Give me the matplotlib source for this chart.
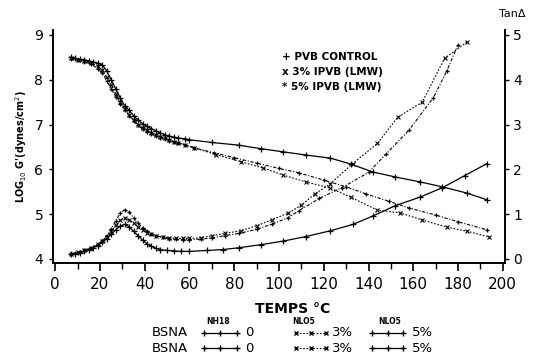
import matplotlib
matplotlib.use("Agg")
import matplotlib.pyplot as plt
from matplotlib.lines import Line2D

plt.rcParams['font.family'] = ['Liberation Sans Narrow', 'DejaVu Sans']

# ---- data: storage modulus log10 G' (left axis) ----
ctrl_g_T = [7, 9, 11, 13, 15, 17, 19, 21, 23, 25, 27, 29, 31, 33, 35, 37, 39, 41, 43, 45,
            47, 49, 51, 53, 55, 58, 60, 70, 82, 92, 102, 112, 123, 132, 142, 152, 163, 173, 184, 193]
ctrl_g = [8.50, 8.48, 8.46, 8.44, 8.42, 8.40, 8.37, 8.33, 8.20, 8.00, 7.80, 7.60, 7.42, 7.32,
          7.20, 7.10, 7.02, 6.96, 6.91, 6.86, 6.81, 6.77, 6.74, 6.72, 6.70, 6.68, 6.66, 6.60,
          6.54, 6.46, 6.39, 6.32, 6.25, 6.12, 5.94, 5.83, 5.72, 5.61, 5.47, 5.32]

p3_g_T = [7, 10, 13, 16, 19, 21, 23, 25, 27, 29, 31, 33, 35, 37, 39, 41, 43, 45, 47, 49, 51,
          53, 55, 58, 62, 72, 83, 93, 102, 112, 123, 132, 144, 154, 164, 175, 184, 194]
p3_g = [8.48, 8.45, 8.42, 8.38, 8.30, 8.22, 8.05, 7.88, 7.68, 7.50, 7.35, 7.22, 7.10, 7.00,
        6.93, 6.87, 6.82, 6.77, 6.73, 6.69, 6.65, 6.62, 6.59, 6.55, 6.48, 6.33, 6.17, 6.03,
        5.87, 5.72, 5.58, 5.38, 5.09, 5.03, 4.87, 4.71, 4.62, 4.49]

p5_g_T = [7, 10, 13, 16, 19, 21, 23, 25, 27, 29, 31, 33, 35, 37, 39, 41, 43, 45, 47, 49, 51,
          53, 55, 58, 62, 71, 80, 90, 100, 109, 120, 130, 139, 149, 158, 170, 180, 193]
p5_g = [8.46, 8.43, 8.40, 8.35, 8.25, 8.15, 7.98, 7.80, 7.62, 7.45, 7.32, 7.20, 7.08, 6.98,
        6.90, 6.84, 6.79, 6.75, 6.71, 6.68, 6.64, 6.61, 6.58, 6.55, 6.48, 6.37, 6.26, 6.14,
        6.02, 5.92, 5.76, 5.61, 5.45, 5.29, 5.14, 4.98, 4.83, 4.65]

# ---- data: tan delta (right axis) ----
ctrl_t_T = [7, 9, 11, 13, 15, 17, 19, 21, 23, 25, 27, 29, 31, 33, 35, 37, 39, 41, 43, 45, 47,
            50, 53, 56, 60, 68, 75, 82, 92, 102, 112, 123, 133, 142, 152, 163, 173, 183, 193]
ctrl_t = [0.10, 0.12, 0.14, 0.17, 0.21, 0.25, 0.30, 0.37, 0.45, 0.55, 0.65, 0.73, 0.77, 0.72,
          0.62, 0.52, 0.42, 0.34, 0.28, 0.24, 0.21, 0.19, 0.18, 0.17, 0.17, 0.19, 0.21, 0.25,
          0.32, 0.40, 0.50, 0.63, 0.77, 0.96, 1.19, 1.38, 1.59, 1.86, 2.13]

p3_t_T = [7, 10, 13, 16, 19, 21, 23, 25, 27, 29, 31, 33, 35, 37, 39, 41, 43, 45, 48, 51, 54,
          57, 60, 65, 70, 76, 83, 90, 97, 104, 110, 116, 123, 133, 144, 153, 164, 174, 184]
p3_t = [0.12, 0.15, 0.19, 0.25, 0.33, 0.40, 0.50, 0.62, 0.75, 0.86, 0.92, 0.88, 0.80, 0.72,
        0.65, 0.59, 0.55, 0.52, 0.49, 0.47, 0.46, 0.46, 0.46, 0.47, 0.52, 0.57, 0.63, 0.74,
        0.88, 1.02, 1.20, 1.45, 1.68, 2.13, 2.58, 3.16, 3.50, 4.48, 4.84]

p5_t_T = [7, 10, 13, 16, 19, 21, 23, 25, 27, 29, 31, 33, 35, 37, 39, 41, 43, 45, 48, 51, 54,
          57, 60, 65, 70, 76, 82, 90, 97, 104, 109, 118, 128, 140, 148, 158, 169, 175, 180]
p5_t = [0.11, 0.14, 0.18, 0.24, 0.32, 0.40, 0.52, 0.67, 0.85, 1.02, 1.10, 1.05, 0.92, 0.80,
        0.70, 0.62, 0.56, 0.52, 0.48, 0.45, 0.44, 0.43, 0.43, 0.44, 0.47, 0.52, 0.57, 0.66,
        0.78, 0.92, 1.08, 1.35, 1.59, 1.93, 2.35, 2.87, 3.60, 4.20, 4.78]

x_ticks = [0, 20, 40, 60, 80, 100, 120, 140, 160, 180, 200]
left_ticks = [4, 5, 6, 7, 8, 9]
right_ticks = [0, 1, 2, 3, 4, 5]
legend_labels = ["+ PVB CONTROL", "x 3% IPVB (LMW)", "* 5% IPVB (LMW)"]

fig = plt.figure(figsize=(5.39, 3.56), dpi=100)
ax = fig.add_axes([53/539, 1-263/356, (505-53)/539, (263-30)/356])
ax2 = ax.twinx()

styles = {
    'ctrl': dict(color='black', ls='-', lw=0.9, marker='+', ms=5, mew=0.9),
    'p3': dict(color='black', ls=(0, (1.5, 1.5)), lw=0.8, marker='x', ms=3.5, mew=0.8),
    'p5': dict(color='black', ls=(0, (3, 1.5, 1, 1.5)), lw=0.8, marker='+', ms=3.5, mew=0.9),
}
ax.plot(ctrl_g_T, ctrl_g, **styles['ctrl'])
ax.plot(p3_g_T, p3_g, **styles['p3'])
ax.plot(p5_g_T, p5_g, **styles['p5'])
ax2.plot(ctrl_t_T, ctrl_t, **styles['ctrl'])
ax2.plot(p3_t_T, p3_t, **styles['p3'])
ax2.plot(p5_t_T, p5_t, **styles['p5'])

ax.set_xlim(-1, 201)
ax.set_ylim(3.91, 9.11)
ax2.set_ylim(-0.09, 5.11)

for a in (ax, ax2):
    a.spines['top'].set_visible(False)
    for s in a.spines.values():
        s.set_linewidth(1.2)

ax.set_xticks(x_ticks)
ax.set_xticklabels([str(t) for t in x_ticks], fontsize=11)
ax.set_xticks(range(10, 200, 20), minor=True)
ax.tick_params(axis='x', which='major', direction='out', length=6, width=1.2, pad=4)
ax.tick_params(axis='x', which='minor', direction='out', length=4, width=1.0)
ax.set_yticks(left_ticks)
ax.set_yticklabels([str(t) for t in left_ticks], fontsize=10)
ax.tick_params(axis='y', direction='out', length=3, width=1.0, pad=4)
ax2.set_yticks(right_ticks)
ax2.set_yticklabels([str(t) for t in right_ticks], fontsize=10)
ax2.tick_params(axis='y', direction='out', length=3, width=1.0, pad=3)

fig.text(293/539, 1-309/356, "TEMPS °C", fontsize=10, fontweight='bold',
         ha='center', va='center')
ax.set_ylabel("LOG$_{10}$ G'(dynes/cm$^2$)", fontsize=7, fontweight='bold', labelpad=4,
              family='DejaVu Sans')
fig.text(512/539, 1-14/356, "TanΔ", fontsize=8, ha='center', va='center')

for i, lab in enumerate(legend_labels):
    fig.text(282/539, 1-(57+15*i)/356, lab, fontsize=7.5, fontweight='bold',
             family='DejaVu Sans', va='center')

# bottom key
rows_y = [1-333/356, 1-348/356]
for ry in rows_y:
    fig.text(152/539, ry, "BSNA", fontsize=9.5, va='center')
    fig.add_artist(Line2D([204/539, 220/539, 237/539], [ry, ry, ry], color='black', lw=0.9,
                          marker='+', ms=4, transform=fig.transFigure))
    fig.text(245/539, ry, "0", fontsize=9.5, va='center')
    fig.add_artist(Line2D([296/539, 311/539, 326/539], [ry, ry, ry], color='black', lw=0.8,
                          ls=(0, (1.5, 1.5)), marker='x', ms=3.5, transform=fig.transFigure))
    fig.text(332/539, ry, "3%", fontsize=9.5, va='center')
    fig.add_artist(Line2D([372/539, 388/539, 403/539], [ry, ry, ry], color='black', lw=0.9,
                          marker='+', ms=4, transform=fig.transFigure))
    fig.text(412/539, ry, "5%", fontsize=9.5, va='center')
for kx, klab in [(218, "NH18"), (304, "NLO5"), (390, "NLO5")]:
    fig.text(kx/539, 1-322/356, klab, fontsize=5.5, fontweight='bold', ha='center',
             va='center', family='DejaVu Sans')

fig.savefig("out.png", dpi=100)
